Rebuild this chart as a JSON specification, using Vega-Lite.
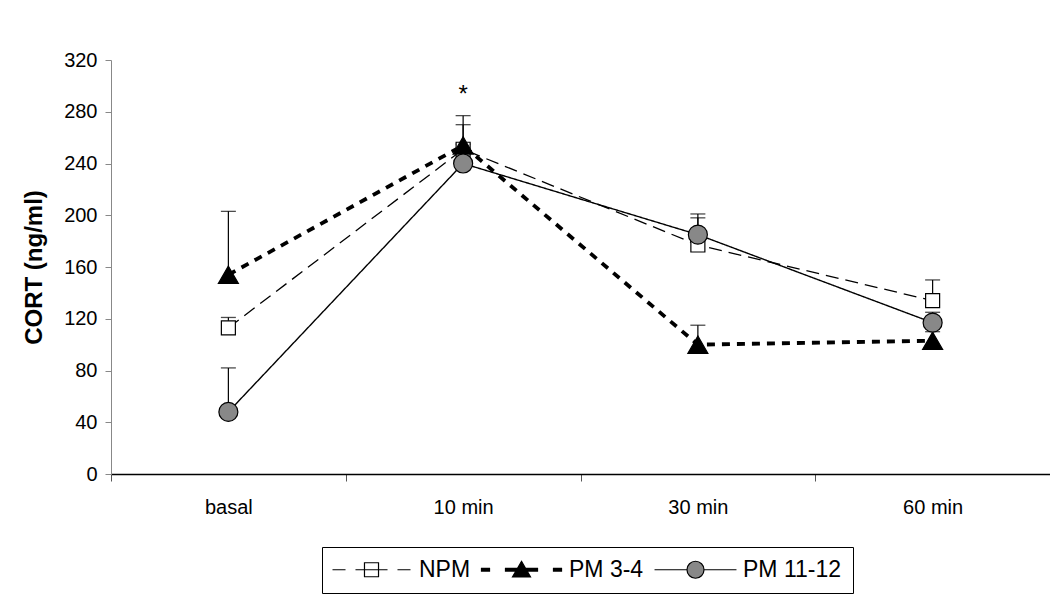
{
  "$schema": "https://vega.github.io/schema/vega-lite/v6.json",
  "autosize": {"type": "none"},
  "width": 939,
  "height": 414,
  "padding": {"left": 111, "top": 60, "right": 0, "bottom": 120},
  "background": "white",
  "config": {
    "view": {"stroke": null},
    "font": "Liberation Sans",
    "axis": {"grid": false, "labelFont": "Liberation Sans", "titleFont": "Liberation Sans", "labelColor": "black", "titleColor": "black"}
  },
  "data": {
    "values": [
      {"time": "basal", "group": "NPM", "mean": 113, "upper": 121},
      {"time": "10 min", "group": "NPM", "mean": 251, "upper": 270},
      {"time": "30 min", "group": "NPM", "mean": 177, "upper": 198},
      {"time": "60 min", "group": "NPM", "mean": 134, "upper": 150},
      {"time": "basal", "group": "PM 3-4", "mean": 154, "upper": 203},
      {"time": "10 min", "group": "PM 3-4", "mean": 254, "upper": 277},
      {"time": "30 min", "group": "PM 3-4", "mean": 100, "upper": 115},
      {"time": "60 min", "group": "PM 3-4", "mean": 103, "upper": 110},
      {"time": "basal", "group": "PM 11-12", "mean": 48, "upper": 82},
      {"time": "10 min", "group": "PM 11-12", "mean": 240, "upper": 255},
      {"time": "30 min", "group": "PM 11-12", "mean": 185, "upper": 201},
      {"time": "60 min", "group": "PM 11-12", "mean": 117, "upper": 125}
    ]
  },
  "encoding": {
    "x": {
      "field": "time", "type": "nominal",
      "sort": ["basal", "10 min", "30 min", "60 min"],
      "scale": {"type": "band", "paddingInner": 0, "paddingOuter": 0},
      "axis": {
        "title": null, "labelAngle": 0, "labelFontSize": 20, "tickBand": "extent",
        "tickSize": 7, "labelPadding": 16, "domainColor": "black", "tickColor": "#555555", "domainWidth": 1.3
      }
    }
  },
  "layer": [
    {
      "mark": {"type": "line", "color": "black"},
      "encoding": {
        "y": {
          "field": "mean", "type": "quantitative",
          "scale": {"domain": [0, 320], "nice": false},
          "axis": {
            "title": "CORT (ng/ml)", "titleFontSize": 24, "titleFontWeight": "bold", "titlePadding": 17,
            "values": [0, 40, 80, 120, 160, 200, 240, 280, 320], "labelFontSize": 20,
            "tickSize": 6, "labelPadding": 8, "domainColor": "#888888", "tickColor": "#888888"
          }
        },
        "strokeDash": {"field": "group", "type": "nominal", "scale": {"domain": ["NPM", "PM 3-4", "PM 11-12"], "range": [[13, 7], [8, 7], [1, 0]]}, "legend": null},
        "strokeWidth": {"field": "group", "type": "nominal", "scale": {"type": "ordinal", "domain": ["NPM", "PM 3-4", "PM 11-12"], "range": [1.3, 3.8, 1.4]}, "legend": null}
      }
    },
    {
      "mark": {"type": "rule", "color": "black", "strokeWidth": 1.2},
      "encoding": {
        "y": {"field": "mean", "type": "quantitative"},
        "y2": {"field": "upper"}
      }
    },
    {
      "mark": {"type": "tick", "color": "black", "size": 15, "thickness": 1.3},
      "encoding": {
        "y": {"field": "upper", "type": "quantitative"}
      }
    },
    {
      "mark": {"type": "point", "filled": true, "stroke": "black", "strokeWidth": 1.2, "opacity": 1},
      "encoding": {
        "y": {"field": "mean", "type": "quantitative"},
        "shape": {"field": "group", "type": "nominal", "scale": {"domain": ["NPM", "PM 3-4", "PM 11-12"], "range": ["square", "triangle-up", "circle"]}, "legend": null},
        "fill": {"field": "group", "type": "nominal", "scale": {"domain": ["NPM", "PM 3-4", "PM 11-12"], "range": ["white", "black", "#888888"]}, "legend": null},
        "size": {"field": "group", "type": "nominal", "scale": {"type": "ordinal", "domain": ["NPM", "PM 3-4", "PM 11-12"], "range": [196, 400, 361]}, "legend": null}
      }
    },
    {
      "data": {"values": [{"time": "10 min", "label": "*", "v": 293}]},
      "mark": {"type": "text", "fontSize": 24, "font": "Liberation Sans", "color": "black", "baseline": "middle"},
      "encoding": {
        "y": {"field": "v", "type": "quantitative"},
        "text": {"field": "label"}
      }
    },
    {
      "mark": {"type": "point", "filled": true, "opacity": 0, "stroke": "black", "strokeWidth": 1.2},
      "encoding": {
        "y": {"field": "mean", "type": "quantitative"},
        "shape": {
          "field": "group", "type": "nominal",
          "scale": {
            "domain": ["NPM", "PM 3-4", "PM 11-12"],
            "range": [
              "M-6.5,0H-4.33M-2.67,0H2.67M4.33,0H6.5M-1.17,-1.17H1.17V1.17H-1.17Z",
              "M-6.67,-0.22H-5.33V0.22H-6.67ZM-2.67,-0.22H2.67V0.22H-2.67ZM5.33,-0.22H6.67V0.22H5.33ZM0,-1.4L1.5,1.2L-1.5,1.2Z",
              "M-6.83,0H-1.42M1.42,0H6.83M-1.42,0A1.42,1.42 0 1,0 1.42,0A1.42,1.42 0 1,0 -1.42,0Z"
            ]
          },
          "legend": {
            "title": null, "orient": "none", "legendX": 211, "legendY": 487, "direction": "horizontal", "columns": 3,
            "strokeColor": "black", "fillColor": "white", "padding": 11, "symbolSize": 144,
            "symbolStrokeColor": "black", "symbolStrokeWidth": 1.2, "symbolOpacity": 1,
            "labelFontSize": 23, "labelFont": "Liberation Sans", "labelColor": "black", "labelLimit": 300,
            "symbolOffset": 27, "labelOffset": 36, "columnPadding": 8, "cornerRadius": 0,
            "encode": {"symbols": {"update": {"opacity": {"value": 1}, "stroke": {"value": "black"}}}}
          }
        },
        "fill": {
          "field": "group", "type": "nominal",
          "scale": {"domain": ["NPM", "PM 3-4", "PM 11-12"], "range": ["white", "black", "#888888"]},
          "legend": {
            "title": null, "orient": "none", "legendX": 211, "legendY": 487, "direction": "horizontal", "columns": 3,
            "strokeColor": "black", "fillColor": "white", "padding": 11, "symbolSize": 144,
            "symbolStrokeColor": "black", "symbolStrokeWidth": 1.2, "symbolOpacity": 1,
            "labelFontSize": 23, "labelFont": "Liberation Sans", "labelColor": "black", "labelLimit": 300,
            "symbolOffset": 27, "labelOffset": 36, "columnPadding": 8, "cornerRadius": 0,
            "encode": {"symbols": {"update": {"opacity": {"value": 1}, "stroke": {"value": "black"}}}}
          }
        }
      }
    }
  ],
  "resolve": {"scale": {"shape": "independent", "fill": "independent"}}
}
